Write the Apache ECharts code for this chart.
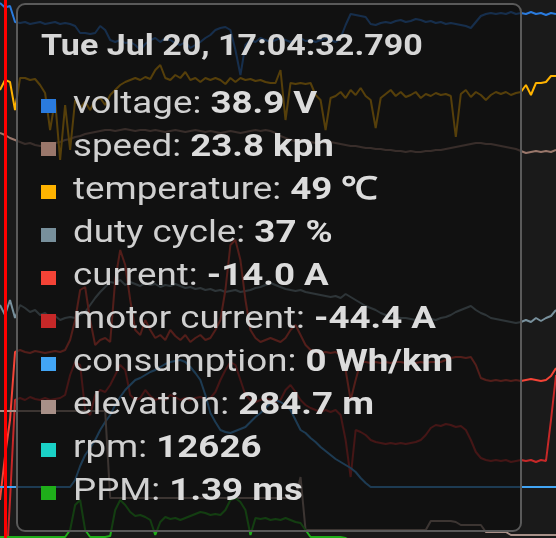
<!DOCTYPE html>
<html>
<head>
<meta charset="utf-8">
<script src="https://cdn.jsdelivr.net/npm/echarts@6/dist/echarts.min.js"></script>
<style>
html,body{margin:0;padding:0;background:#1a1a1a;}
#chart{width:556px;height:538px;}
</style>
</head>
<body>
<div id="chart"></div>
<script>
// ---- data ----
const startMs = Date.UTC(2021, 6, 20, 17, 4, 32, 690);
const stepMs = 100;
const pointCount = 112;
const categories = [];
for (let i = 0; i < pointCount; i++) categories.push(startMs + i * stepMs);

const seriesNames = ['voltage','speed','temperature','duty cycle','current','motor current','consumption','elevation','rpm','PPM'];

const voltage = [39.08,38.90,38.96,38.32,38.28,38.32,38.24,38.28,38.32,38.24,
 38.28,38.32,38.24,38.28,38.24,38.16,37.88,37.88,37.84,37.88,
 38.16,38.00,37.60,37.52,37.60,37.48,37.52,37.40,37.20,37.44,
 37.60,37.68,37.52,37.68,37.60,37.48,37.40,37.52,37.28,37.40,
 37.52,37.68,37.80,38.00,38.08,38.12,38.00,37.20,36.20,37.40,
 37.60,37.52,37.68,37.60,37.52,37.60,37.68,37.60,37.52,37.60,
 37.68,37.56,37.60,37.52,37.60,37.68,37.60,37.52,37.68,38.20,
 38.64,38.60,38.56,38.52,38.24,38.20,38.28,38.32,38.28,38.36,
 38.40,38.32,38.36,38.44,38.40,38.32,38.36,38.28,38.32,38.24,
 38.28,38.24,38.20,38.16,38.08,38.32,38.56,38.64,38.68,38.64,
 38.68,38.64,38.72,38.64,38.68,38.64,38.72,38.64,38.68,38.60,
 38.68,38.64];

const speed = [24.2,23.8,23.2,22.8,22.4,22.0,22.2,21.8,21.6,21.8,
 22.0,22.2,22.4,22.8,23.0,23.4,23.6,24.0,24.2,24.4,
 24.6,24.8,24.8,24.6,24.8,25.0,24.8,24.6,24.8,24.8,
 24.6,24.8,24.6,24.4,24.6,24.8,24.6,24.4,24.6,24.8,
 24.6,24.4,24.6,24.4,24.2,24.4,24.6,24.4,24.2,24.4,
 24.6,24.8,24.6,24.8,24.6,24.2,23.6,23.2,22.8,22.6,
 22.8,22.6,22.4,22.2,22.4,22.2,22.4,22.2,22.0,21.8,
 21.6,21.6,21.4,21.2,21.2,21.0,21.0,20.8,20.8,20.6,
 20.6,20.4,20.6,20.4,20.4,20.6,20.6,20.8,20.8,21.0,
 21.2,21.4,21.6,21.8,22.0,22.2,22.2,22.0,22.0,21.8,
 21.6,21.4,21.2,21.0,20.6,20.2,20.4,20.6,20.4,20.6,
 20.4,20.8];

const temperature = [47,49,48.6,43,49.4,49.4,49,49.2,48,46.4,
 39,45,33,44,35,45,43.4,44.6,43,45,
 45.4,44,46,47,48,48.6,49,49.4,49,49.6,
 49.2,51,52,49.4,49,50,49.4,50.6,49,49.4,
 48.6,49.4,49,49.4,49,48.2,49.4,48.6,49.4,49,
 49.2,48.8,49,48.6,48.4,48.4,51,41,48.4,48.2,
 48.4,48.2,48.4,46,45,39,45.4,45.8,46.6,45.4,
 47,46,47.4,45.8,45,39.4,45.4,46.2,47,45.8,
 46.6,45.6,46,46.6,45.4,46.2,45.8,46.4,46,46.2,
 45.8,37.6,46.2,47,45.6,46.6,46,45,46,46.6,
 46.2,46.6,46,46.4,46.6,48,46,48.4,48.4,48.6,
 49.8,49.8];

const dutyCycle = [39.5,37.0,40.75,36.25,39.5,38.75,37.75,38.25,37.0,37.5,
 36.25,36.75,35.75,36.25,36.5,36.25,37.0,37.75,39.5,41.25,
 42.75,44.0,45.25,45.0,45.75,44.5,45.25,44.75,44.25,45.0,
 44.5,44.75,44.0,44.5,44.25,44.75,44.25,43.75,44.0,43.5,
 43.75,43.25,43.5,43.0,43.25,42.75,43.0,43.25,42.75,43.0,
 43.25,43.75,44.0,44.5,45.0,44.5,44.0,43.5,43.25,43.0,
 43.25,42.75,42.5,42.25,42.0,41.75,41.5,41.75,41.25,42.25,
 41.5,40.75,40.0,39.25,38.75,38.25,37.5,37.0,36.75,36.5,
 36.25,36.25,36.0,35.75,36.0,35.75,36.0,35.75,36.25,36.5,
 37.0,37.75,38.25,38.75,39.25,38.25,37.5,37.0,36.25,36.0,
 35.75,35.5,35.25,35.0,35.25,35.75,35.25,36.25,35.5,36.25,
 36.75,38.25];

const current = [-25,-14,-5,12,12.5,12,11.75,12.25,12,11.75,
 12,12.25,12,12.5,15,20,27.5,28.25,20,13.75,
 15,15.5,14.5,30,37.5,33.75,25,17.5,16.25,20,
 17.5,15.5,16.25,15,17.5,16,15,16.25,14.5,15.5,
 16.25,15,15.5,17.5,20,27.5,38.75,40,35,25,
 17.5,15.5,14.5,15,15.5,15,14.5,15.5,17.5,18.75,
 16.25,13.75,12.5,12,11.75,12,11.75,12,11.25,7.5,
 0,5,9.5,9.5,9.25,9.5,9.25,9.5,9.25,9.5,
 9.5,9.25,9.5,9.25,9.5,9.25,9.5,9.5,9.5,10,
 10.5,10.75,10.75,10.5,10.75,8.75,5.5,5,4.75,5,
 4.75,5,4.75,5,4.75,5,5.25,5,4.75,5,
 6,8];

const motorCurrent = [-64,-44.4,-8,32,32.8,32,33.2,32.4,32,32.8,
 32,32.4,32.8,34,42,47.2,46,28,26,34,
 36,35.2,38,42,46,44,34,32,32.8,36,
 33.6,32,32.8,32,34,33.2,32,32.8,32,32.8,
 33.2,32.4,32.8,35.2,40,44,47.2,46,40,34,
 32,31.2,32,32.8,32,31.2,32,36,38,35.2,
 32,30,28.8,28,27.2,28,27.2,28,26,16,
 1.2,20,19.2,18,16,15.2,14.8,14.4,14.8,14.4,
 14.8,14.4,14.8,15.2,16,18,20.8,22,21.6,22.4,
 22,21.2,21.6,20,16,11.2,8.8,8,7.6,8,
 7.6,8,7.2,7.6,8,7.6,8,7.2,8,7.6,
 24,42];

const consumption = [0,0,0,0,0,0,0,0,0,0,
 0,0,0,0,0,1.4,4.2,6.4,7.8,9.4,
 11.4,13.0,14.4,16.4,18.0,19.4,20.4,21.4,21.8,22.4,
 23.0,23.4,24.0,24.6,25.0,25.2,25.4,25.0,24.0,22.8,
 21.4,18.4,14.8,13.0,11.4,11.0,10.8,11.2,11.6,12.0,
 13.0,14.0,14.8,15.8,16.8,17.4,17.0,16.4,15.4,13.4,
 11.4,10.8,9.8,9.0,8.0,7.2,6.4,5.6,5.0,4.4,
 3.8,3.0,1.8,0.8,0,0,0,0,0,0,
 0,0,0,0,0,0,0,0,0,0,
 0,0,0,0,0,0,0,0,0,0,
 0,0,0,0,0,0,0,0,0,0,
 0,0];

const elevation = [284.7,284.7,284.7,284.7,284.7,284.7,284.7,284.7,284.7,284.7,
 284.7,284.7,284.7,284.7,284.7,284.7,284.7,284.7,284.7,284.7,
 284.7,284.7,267.3,267.3,267.3,267.3,267.3,267.3,267.3,267.3,
 267.3,267.3,267.3,267.3,267.3,267.3,267.3,267.3,267.3,267.3,
 267.3,267.3,267.3,267.3,267.3,267.3,267.3,267.3,267.3,267.3,
 267.3,267.3,267.3,267.3,267.3,267.3,267.3,267.3,267.3,267.3,
 271.5,260.9,260.9,260.9,260.9,260.9,260.9,260.9,260.9,260.9,
 260.9,260.9,260.9,260.9,260.9,260.9,260.9,260.9,260.9,260.9,
 260.9,260.9,260.9,260.9,260.9,260.9,262.7,262.7,262.7,262.7,
 262.7,262.5,261.9,261.9,261.9,261.9,261.9,260.5,260.5,260.5,
 260.5,260.5,259.9,259.9,259.9,259.9,259.9,259.9,259.9,259.9,
 259.9,259.9];

const rpm = [12838,12626,12308,12095,11883,11671,11777,11565,11459,11565,
 11671,11777,11883,12095,12202,12414,12520,12732,12838,12944,
 13050,13156,13156,13050,13156,13263,13156,13050,13156,13156,
 13050,13156,13050,12944,13050,13156,13050,12944,13050,13156,
 13050,12944,13050,12944,12838,12944,13050,12944,12838,12944,
 13050,13156,13050,13156,13050,12838,12520,12308,12095,11989,
 12095,11989,11883,11777,11883,11777,11883,11777,11671,11565,
 11459,11459,11353,11247,11247,11141,11141,11034,11034,10928,
 10928,10822,10928,10822,10822,10928,10928,11034,11034,11141,
 11247,11353,11459,11565,11671,11777,11777,11671,11671,11565,
 11459,11353,11247,11141,10928,10716,10822,10928,10822,10928,
 10822,11034];

const ppm = [1.39,1.39,1.39,1.39,1.39,1.39,1.39,1.39,1.39,1.39,
 1.39,1.39,1.39,1.39,1.46,1.71,1.76,1.46,1.39,1.39,
 1.39,1.39,1.40,1.66,1.76,1.71,1.64,1.60,1.61,1.59,
 1.56,1.41,1.54,1.59,1.57,1.58,1.56,1.58,1.60,1.62,
 1.64,1.63,1.61,1.62,1.61,1.66,1.76,1.78,1.74,1.66,
 1.41,1.58,1.57,1.58,1.56,1.57,1.56,1.58,1.56,1.54,
 1.53,1.46,1.39,1.39,1.39,1.39,1.39,1.39,1.39,1.38,
 1.35,1.35,1.35,1.35,1.35,1.35,1.35,1.35,1.35,1.35,
 1.35,1.35,1.35,1.35,1.35,1.35,1.35,1.35,1.35,1.35,
 1.35,1.35,1.35,1.35,1.35,1.35,1.35,1.35,1.35,1.35,
 1.35,1.35,1.35,1.35,1.35,1.35,1.35,1.35,1.35,1.35,
 1.35,1.35];

const selectedIndex = 1;

// ---- presentation ----
const seriesData = [voltage, speed, temperature, dutyCycle, current, motorCurrent, consumption, elevation, rpm, ppm];
const colors = ['#2a7bde','#9a776b','#ffb300','#78909c','#f44336','#c62828','#42a5f5','#a89088','#1ad1c6','#1fae1a'];
// per-series vertical bands (axis extents)
const axisMin = [17.68, -56.8, -42.6, -18.75, -34.5, -23.2, -10.2, 259.3, 0, 1.38];
const axisMax = [39.2, 50.8, 65, 115.75, 100, 192, 97.4, 366.9, 20000, 6.76];
const valueFmt = [
  v => v.toFixed(1) + ' V',
  v => v.toFixed(1) + ' kph',
  v => Math.round(v) + ' \u2103',
  v => Math.round(v) + ' %',
  v => v.toFixed(1) + ' A',
  v => v.toFixed(1) + ' A',
  v => Math.round(v) + ' Wh/km',
  v => v.toFixed(1) + ' m',
  v => String(Math.round(v)),
  v => v.toFixed(2) + ' ms'
];

function pad(n, w) { return String(n).padStart(w || 2, '0'); }
function fmtTime(ms) {
  const d = new Date(ms);
  const D = ['Sun','Mon','Tue','Wed','Thu','Fri','Sat'][d.getUTCDay()];
  const M = ['Jan','Feb','Mar','Apr','May','Jun','Jul','Aug','Sep','Oct','Nov','Dec'][d.getUTCMonth()];
  return D + ' ' + M + ' ' + d.getUTCDate() + ', ' + pad(d.getUTCHours()) + ':' + pad(d.getUTCMinutes()) + ':' + pad(d.getUTCSeconds()) + '.' + pad(d.getUTCMilliseconds(), 3);
}

const chart = echarts.init(document.getElementById('chart'), null, {renderer: 'canvas'});

const yAxes = seriesNames.map((n, i) => ({
  type: 'value', show: false, min: axisMin[i], max: axisMax[i], scale: true,
  splitLine: {show: false}
}));

const series = seriesNames.map((n, i) => ({
  name: n,
  type: 'line',
  yAxisIndex: i,
  data: seriesData[i],
  showSymbol: false,
  symbol: 'none',
  color: colors[i],
  lineStyle: {width: 2, color: colors[i], opacity: n === 'rpm' ? 0 : 1},
  emphasis: {disabled: true},
  animation: false
}));

const titleCss = 'height:43px;line-height:43px;font-size:30px;margin-bottom:15px;white-space:nowrap;';
const titleSpanCss = 'display:inline-block;font-weight:700;color:#d6d6d6;transform:scaleX(1.134);transform-origin:0 50%;';
const rowCss = 'height:43px;line-height:43px;font-size:31.5px;white-space:nowrap;color:#d0d0d0;';
const rowTextCss = 'display:inline-block;transform:scaleX(1.165);transform-origin:0 50%;';

chart.setOption({
  backgroundColor: '#1a1a1a',
  animation: false,
  grid: {left: 0, right: 0, top: 0, bottom: 0, containLabel: false},
  xAxis: {type: 'category', show: false, boundaryGap: false, data: categories},
  yAxis: yAxes,
  tooltip: {
    trigger: 'axis',
    triggerOn: 'none',
    alwaysShowContent: true,
    transitionDuration: 0,
    position: [16, 3],
    backgroundColor: 'rgba(14,14,14,0.7)',
    borderColor: '#5a5a5a',
    borderWidth: 2,
    padding: [18, 23],
    textStyle: {color: '#d4d4d4', fontFamily: 'Roboto', fontSize: 31},
    extraCssText: 'border-radius:9px;box-shadow:none;width:506px;height:529px;box-sizing:border-box;overflow:hidden;',
    axisPointer: {type: 'line', lineStyle: {color: '#ff0000', width: 3, type: 'solid'}, label: {show: false}},
    formatter: function (params) {
      const idx = params[0].dataIndex;
      let html = '<div style="' + titleCss + '"><span style="' + titleSpanCss + '">' + fmtTime(categories[idx]) + '</span></div>';
      params.forEach(p => {
        const si = p.seriesIndex;
        html += '<div style="' + rowCss + '">' +
          '<span style="display:inline-block;width:15px;height:14px;background:' + colors[si] + ';margin-right:17px"></span>' +
          '<span style="' + rowTextCss + '">' + p.seriesName + ': <b style="font-weight:700;color:#dcdcdc">' + valueFmt[si](p.value) + '</b></span></div>';
      });
      return html;
    }
  },
  series: series
});

chart.dispatchAction({type: 'showTip', seriesIndex: 0, dataIndex: selectedIndex});
</script>
</body>
</html>
